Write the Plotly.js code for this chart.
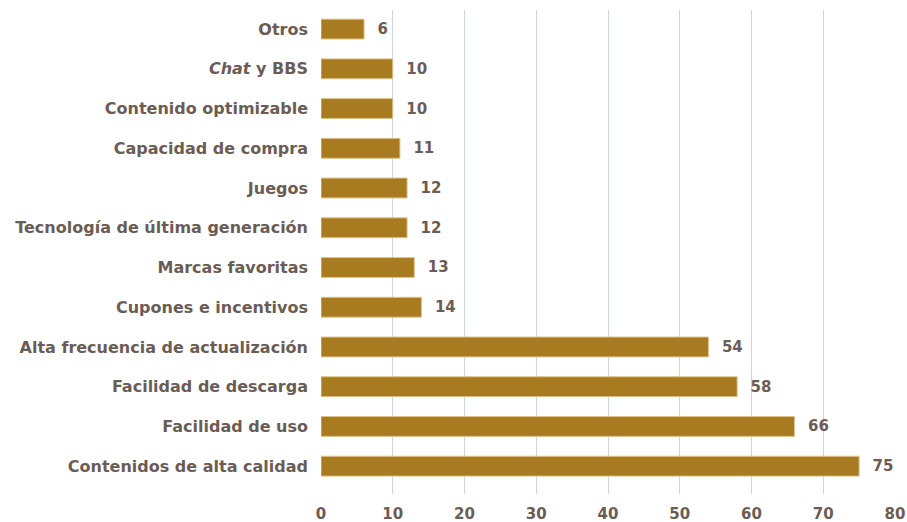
<!DOCTYPE html>
<html>
<head>
<meta charset="utf-8">
<script src="https://cdn.plot.ly/plotly-3.0.1.min.js"></script>
<style>html,body{margin:0;padding:0;background:#fff;}#chart{width:907px;height:522px;}</style>
</head>
<body>
<div id="chart"></div>
<script>
const categories = [
  "Contenidos de alta calidad",
  "Facilidad de uso",
  "Facilidad de descarga",
  "Alta frecuencia de actualización",
  "Cupones e incentivos",
  "Marcas favoritas",
  "Tecnología de última generación",
  "Juegos",
  "Capacidad de compra",
  "Contenido optimizable",
  "<i>Chat</i> y BBS",
  "Otros"
];
const values = [75, 66, 58, 54, 14, 13, 12, 12, 11, 10, 10, 6];
const xTicks = [0, 10, 20, 30, 40, 50, 60, 70, 80];

const textColor = "#6b5c55";
const fontFam = "'DejaVu Sans', Arial, Helvetica, sans-serif";

const trace = {
  type: "bar",
  orientation: "h",
  y: categories,
  x: values,
  width: 0.5,
  marker: {color: "#a87b21", line: {color: "#dcc48a", width: 1}},
  text: values.map(String),
  texttemplate: "\u00a0\u00a0%{x}",
  textposition: "outside",
  cliponaxis: false,
  textfont: {family: fontFam, size: 15, color: textColor, weight: "bold"},
  hoverinfo: "none"
};

const layout = {
  width: 907, height: 522,
  margin: {l: 321, r: 12, t: 10, b: 28},
  paper_bgcolor: "#ffffff",
  plot_bgcolor: "#ffffff",
  showlegend: false,
  font: {family: fontFam, size: 15, color: textColor, weight: "bold"},
  xaxis: {
    range: [0, 80], autorange: false,
    tickvals: xTicks,
    showgrid: true, gridcolor: "#c8d6e3", gridwidth: 1,
    zeroline: false, showline: false,
    ticks: "", ticklabelstandoff: 9,
    tickfont: {family: fontFam, size: 15, color: textColor, weight: "bold"}
  },
  yaxis: {
    type: "category",
    categoryorder: "array", categoryarray: categories,
    range: [-0.7, 11.48], autorange: false,
    showgrid: false, zeroline: false, showline: false,
    ticks: "", ticklabelstandoff: 12,
    tickfont: {family: fontFam, size: 16, color: textColor, weight: "bold"}
  }
};

Plotly.newPlot("chart", [trace], layout, {staticPlot: true, displayModeBar: false});
</script>
</body>
</html>
